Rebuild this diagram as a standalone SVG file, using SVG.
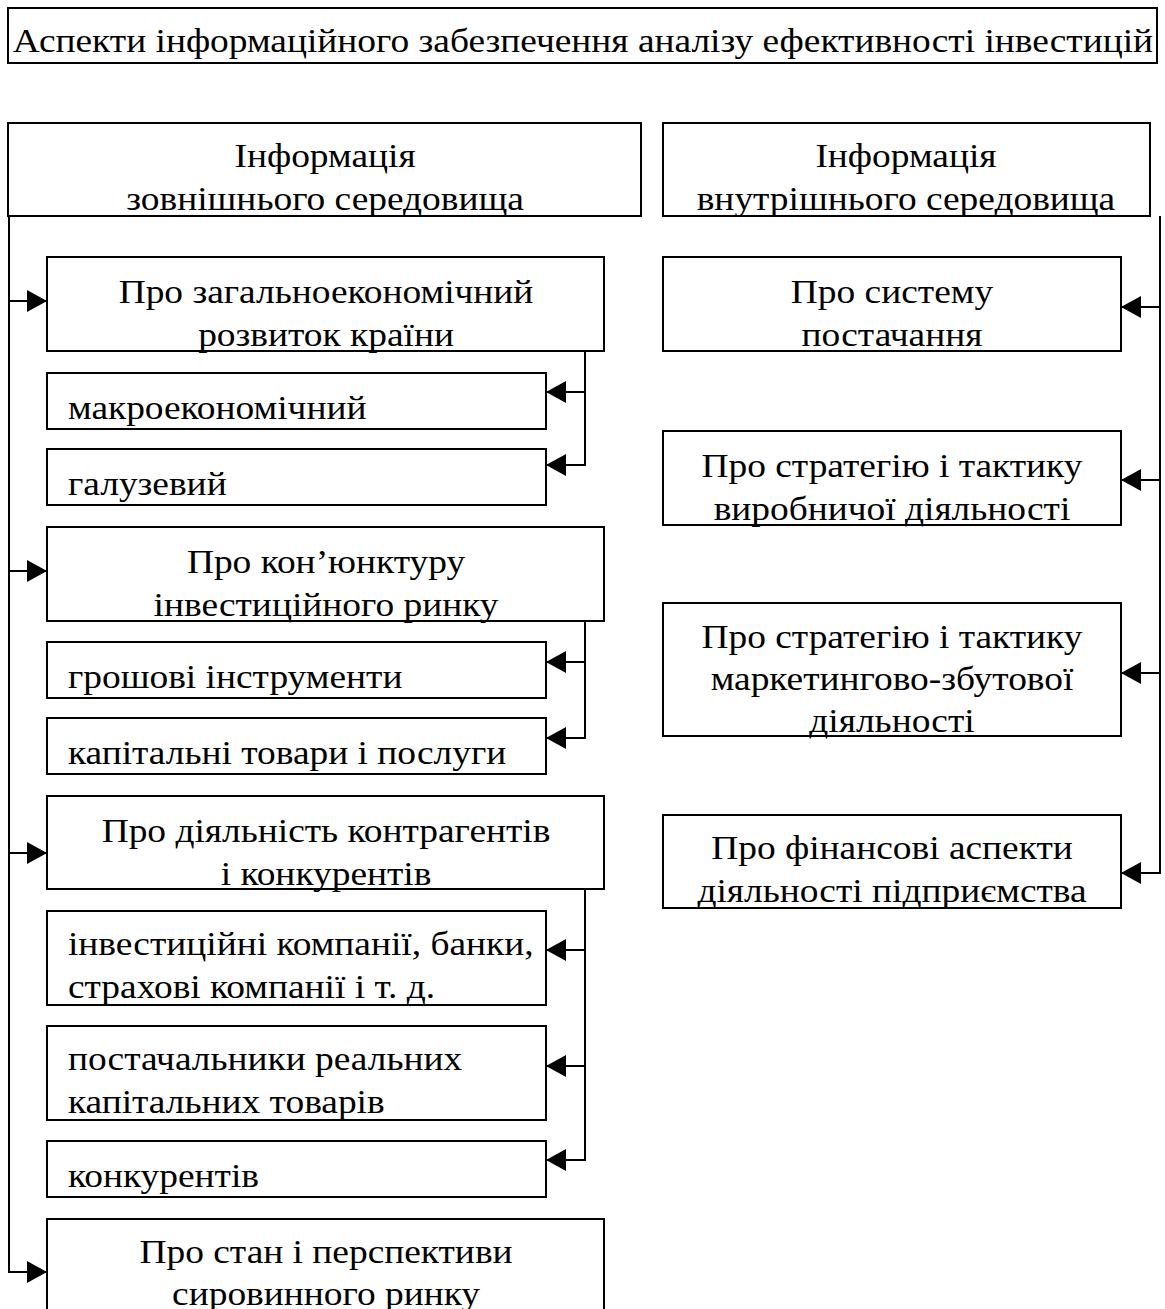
<svg xmlns="http://www.w3.org/2000/svg" width="1165" height="1309" viewBox="0 0 1165 1309">
  <style>
    rect.box { fill: #fff; stroke: #000; stroke-width: 2; }
    text { font-family: "Liberation Serif", "Times New Roman", serif; font-size: 34px; fill: #000; }
    text.c { text-anchor: middle; }
    .wire { fill: none; stroke: #000; stroke-width: 2; }
  </style>
  <defs>
    <marker id="arrow" viewBox="0 0 20 22" refX="20" refY="11" markerWidth="20" markerHeight="22" markerUnits="userSpaceOnUse" orient="auto">
      <path d="M0,0 L20,11 L0,22 Z" fill="#000"/>
    </marker>
  </defs>
  <rect width="1165" height="1309" fill="#fff"/>

  <!-- Boxes; labels sit in a horizontally widened layer (scale 1.1), so their x values are divided by 1.1 -->
  <g id="title">
    <rect class="box" x="8" y="8" width="1149" height="55"/>
    <g transform="scale(1.1 1)">
      <text class="c" x="530" y="52">Аспекти інформаційного забезпечення аналізу ефективності інвестицій</text>
    </g>
  </g>

  <g id="external">
    <rect class="box" x="8" y="123" width="633" height="93"/>
    <g transform="scale(1.1 1)">
      <text class="c" x="295.5" y="167">Інформація</text>
      <text class="c" x="295.5" y="210">зовнішнього середовища</text>
    </g>
  </g>
  <g id="internal">
    <rect class="box" x="663" y="123" width="487" height="93"/>
    <g transform="scale(1.1 1)">
      <text class="c" x="823.6" y="167">Інформація</text>
      <text class="c" x="823.6" y="210">внутрішнього середовища</text>
    </g>
  </g>

  <!-- External environment -->
  <g id="economy">
    <rect class="box" x="47" y="257" width="557" height="94"/>
    <g transform="scale(1.1 1)">
      <text class="c" x="296.4" y="303">Про загальноекономічний</text>
      <text class="c" x="296.4" y="346">розвиток країни</text>
    </g>
  </g>
  <g id="macro">
    <rect class="box" x="47" y="373" width="499" height="56"/>
    <g transform="scale(1.1 1)"><text x="61.8" y="419">макроекономічний</text></g>
  </g>
  <g id="sector">
    <rect class="box" x="47" y="449" width="499" height="56"/>
    <g transform="scale(1.1 1)"><text x="61.8" y="495">галузевий</text></g>
  </g>

  <g id="market">
    <rect class="box" x="47" y="527" width="557" height="94"/>
    <g transform="scale(1.1 1)">
      <text class="c" x="296.4" y="573">Про кон’юнктуру</text>
      <text class="c" x="296.4" y="616">інвестиційного ринку</text>
    </g>
  </g>
  <g id="money">
    <rect class="box" x="47" y="642" width="499" height="56"/>
    <g transform="scale(1.1 1)"><text x="61.8" y="688">грошові інструменти</text></g>
  </g>
  <g id="capital">
    <rect class="box" x="47" y="718" width="499" height="56"/>
    <g transform="scale(1.1 1)"><text x="61.8" y="764">капітальні товари і послуги</text></g>
  </g>

  <g id="partners">
    <rect class="box" x="47" y="796" width="557" height="93"/>
    <g transform="scale(1.1 1)">
      <text class="c" x="296.4" y="842">Про діяльність контрагентів</text>
      <text class="c" x="296.4" y="885">і конкурентів</text>
    </g>
  </g>
  <g id="institutions">
    <rect class="box" x="47" y="911" width="499" height="94"/>
    <g transform="scale(1.1 1)">
      <text x="61.8" y="955">інвестиційні компанії, банки,</text>
    <text x="61.8" y="998">страхові компанії і т. д.</text>
    </g>
  </g>
  <g id="suppliers">
    <rect class="box" x="47" y="1026" width="499" height="94"/>
    <g transform="scale(1.1 1)">
      <text x="61.8" y="1070">постачальники реальних</text>
      <text x="61.8" y="1113">капітальних товарів</text>
    </g>
  </g>
  <g id="competitors">
    <rect class="box" x="47" y="1141" width="499" height="56"/>
    <g transform="scale(1.1 1)"><text x="61.8" y="1187">конкурентів</text></g>
  </g>

  <g id="raw">
    <rect class="box" x="47" y="1219" width="557" height="96"/>
    <g transform="scale(1.1 1)">
      <text class="c" x="296.4" y="1263">Про стан і перспективи</text>
      <text class="c" x="296.4" y="1305">сировинного ринку</text>
    </g>
  </g>

  <!-- Internal environment -->
  <g id="supply">
    <rect class="box" x="663" y="257" width="458" height="94"/>
    <g transform="scale(1.1 1)">
      <text class="c" x="810.9" y="303">Про систему</text>
      <text class="c" x="810.9" y="346">постачання</text>
    </g>
  </g>
  <g id="production">
    <rect class="box" x="663" y="431" width="458" height="94"/>
    <g transform="scale(1.1 1)">
      <text class="c" x="810.9" y="477">Про стратегію і тактику</text>
      <text class="c" x="810.9" y="520">виробничої діяльності</text>
    </g>
  </g>
  <g id="marketing">
    <rect class="box" x="663" y="603" width="458" height="133"/>
    <g transform="scale(1.1 1)">
      <text class="c" x="810.9" y="648">Про стратегію і тактику</text>
      <text class="c" x="810.9" y="690">маркетингово-збутової</text>
      <text class="c" x="810.9" y="732">діяльності</text>
    </g>
  </g>
  <g id="finance">
    <rect class="box" x="663" y="815" width="458" height="93"/>
    <g transform="scale(1.1 1)">
      <text class="c" x="810.9" y="859">Про фінансові аспекти</text>
      <text class="c" x="810.9" y="902">діяльності підприємства</text>
    </g>
  </g>

  <!-- Connectors -->
  <g id="connectors">
    <!-- left trunk -->
    <path class="wire" d="M9,216 V1272"/>
    <path class="wire" d="M9,301 H47" marker-end="url(#arrow)"/>
    <path class="wire" d="M9,571 H47" marker-end="url(#arrow)"/>
    <path class="wire" d="M9,853 H47" marker-end="url(#arrow)"/>
    <path class="wire" d="M8,1272 H47" marker-end="url(#arrow)"/>

    <!-- sub-branches -->
    <path class="wire" d="M585,351 V465 H546" marker-end="url(#arrow)"/>
    <path class="wire" d="M585,392 H546" marker-end="url(#arrow)"/>

    <path class="wire" d="M585,621 V738 H546" marker-end="url(#arrow)"/>
    <path class="wire" d="M585,662 H546" marker-end="url(#arrow)"/>

    <path class="wire" d="M585,889 V1160 H546" marker-end="url(#arrow)"/>
    <path class="wire" d="M585,950 H546" marker-end="url(#arrow)"/>
    <path class="wire" d="M585,1066 H546" marker-end="url(#arrow)"/>

    <!-- right trunk -->
    <path class="wire" d="M1160,216 V873 H1121" marker-end="url(#arrow)"/>
    <path class="wire" d="M1160,307 H1121" marker-end="url(#arrow)"/>
    <path class="wire" d="M1160,480 H1121" marker-end="url(#arrow)"/>
    <path class="wire" d="M1160,673 H1121" marker-end="url(#arrow)"/>
  </g>
</svg>
